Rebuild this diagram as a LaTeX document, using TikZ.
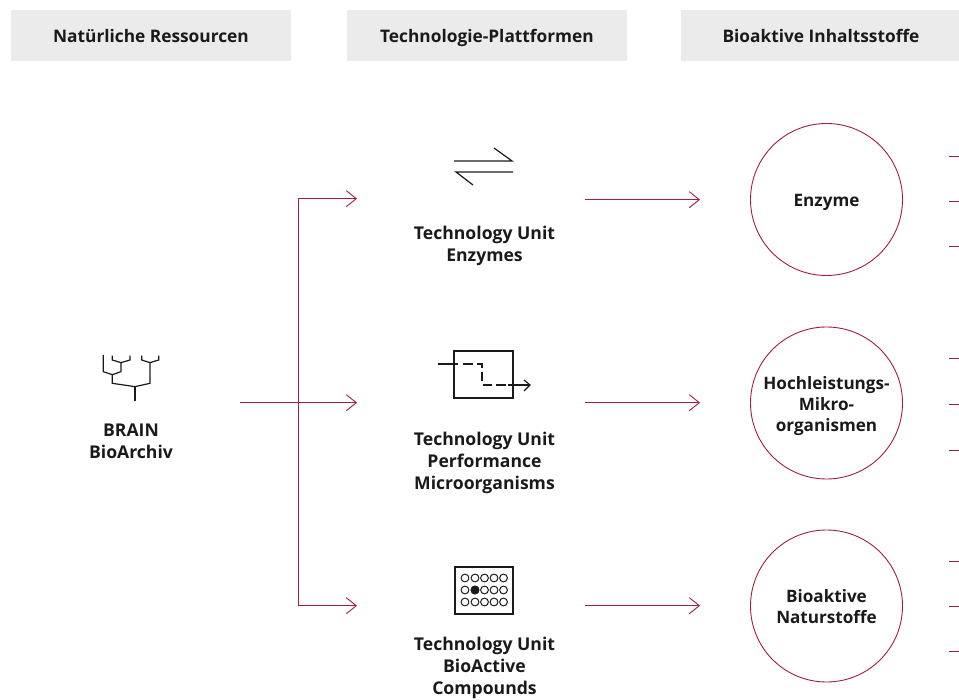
\documentclass[tikz,border=0pt]{standalone}
\usepackage{fontspec}
\setmainfont{Open Sans}
\usetikzlibrary{arrows.meta}
\definecolor{brainred}{HTML}{A01F3C}
\definecolor{headgrey}{HTML}{EBEBEB}
\definecolor{ink}{HTML}{1A1A1A}
\tikzset{
  header/.style={fill=headgrey,minimum width=280pt,minimum height=51pt,inner sep=0pt,text height=18pt,text depth=4pt,font=\fontsize{17.3}{20}\selectfont\bfseries,text=ink},
  label/.style={align=center,inner sep=0pt,font=\fontsize{17.6}{21.6}\selectfont\bfseries,text=ink},
  bubblelabel/.style={align=center,inner sep=0pt,font=\fontsize{17.1}{21}\selectfont\bfseries,text=ink},
  bubble/.style={circle,draw=brainred,line width=0.9pt,minimum size=152pt,inner sep=0pt},
  link/.style={draw=brainred,line width=0.9pt},
  linkarrow/.style={link,-{Straight Barb[length=10pt,width=16pt,line width=0.9pt]}},
  icon/.style={draw=ink,line width=1.2pt},
}
\begin{document}
\begin{tikzpicture}[x=1pt,y=-1pt]
\useasboundingbox (0,0) rectangle (959,700);
% headers
\node[header] (h1) at (151,35.5) {Natürliche Ressourcen};
\node[header] (h2) at (487,35.5) {Technologie-Plattformen};
\node[header] (h3) at (821,35.5) {Bioaktive Inhaltsstoffe};
% labels
\node[label] (brain) at (131,441) {BRAIN\\BioArchiv};
\node[label] (tu1) at (484.5,246) {Technology Unit\\Enzymes};
\node[label] (tu2) at (484.5,463) {Technology Unit\\Performance\\Microorganisms};
\node[label] (tu3) at (484.5,668) {Technology Unit\\BioActive\\Compounds};
% circles
\node[bubble] (c1) at (826.5,199.5) {};
\node[bubble] (c2) at (826.5,403) {};
\node[bubble] (c3) at (826.5,606) {};
\node[bubblelabel] (t1) at (826.5,202.5) {Enzyme};
\node[bubblelabel] (t2) at (826.5,406) {Hochleistungs-\\Mikro-\\organismen};
\node[bubblelabel] (t3) at (826.5,606.5) {Bioaktive\\Naturstoffe};
% connector anchors
\coordinate (src) at (240,402.7);
\coordinate (j) at (298,402.7);
\coordinate (a1) at (357,198.7);
\coordinate (a2) at (357,402.7);
\coordinate (a3) at (357,605.7);
\coordinate (o1) at (585,199.7);
\coordinate (o2) at (585,402.7);
\coordinate (o3) at (585,605.7);
\coordinate (e1) at (700,199.7);
\coordinate (e2) at (700,402.7);
\coordinate (e3) at (700,605.7);
% connectors
\draw[linkarrow] (src) -- (a2);
\draw[linkarrow] (j) |- (a1);
\draw[linkarrow] (j) |- (a3);
\draw[linkarrow] (o1) -- (e1);
\draw[linkarrow] (o2) -- (e2);
\draw[linkarrow] (o3) -- (e3);
% right stubs
\foreach \y in {156,201,246,358,404,450,561,606,651}{
  \coordinate (sa\y) at (949,\y);
  \coordinate (sb\y) at (959,\y);
  \draw[link] (sa\y) -- (sb\y);
}
% tree icon
\begin{scope}[shift={(80,340)},x=0.3333pt,y=-0.3333pt]
\draw[icon] (70,45) -- (70,95) -- (97,104) -- (123,95) -- (123,68);
\draw[icon] (97,47) -- (97,60) -- (123,68) -- (150,60) -- (150,47);
\draw[icon] (97,104) -- (97,130) -- (165,140) -- (210,130) -- (210,68);
\draw[icon] (185,47) -- (185,60) -- (210,68) -- (236,60) -- (236,47);
\draw[icon] (165,140) -- (165,182);
\end{scope}
% equilibrium icon
\draw[icon] (454,161) -- (512,161) -- (494,148);
\draw[icon] (513,172) -- (456,172) -- (473,185);
% process icon
\draw[icon] (454,351) rectangle (513,398);
\draw[icon] (438,364) -- (458,364);
\draw[icon,dash pattern=on 9.5pt off 4pt] (463,364) -- (482,364) -- (482,385) -- (508,385);
\draw[icon] (508,385) -- (529,385);
\draw[icon] (524,380) -- (530,385) -- (524,391);
% plate icon
\draw[icon] (455,567) rectangle (513,614);
\foreach \r in {578,590,602}{
  \foreach \c in {465,475,484.5,494,503.5}{
    \draw[draw=ink,line width=1pt] (\c,\r) circle[radius=3.9pt];
  }
}
\fill[ink] (475,590) circle[radius=4.4pt];
\end{tikzpicture}
\end{document}
